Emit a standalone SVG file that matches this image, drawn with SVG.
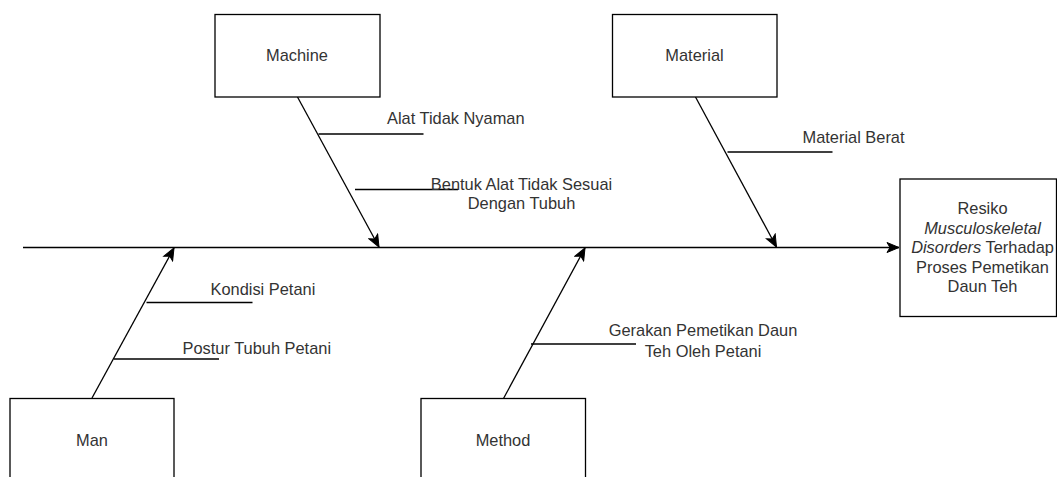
<svg xmlns="http://www.w3.org/2000/svg" width="1057" height="477" viewBox="0 0 1057 477">
<style>
.box{fill:#fff;stroke:#000;stroke-width:1.3}
.ln{fill:none;stroke:#000;stroke-width:1.3}
.t{font-family:"Liberation Sans",Arial,sans-serif;font-size:16.4px;fill:#333}
.c{text-anchor:middle}
</style>
<defs>
<marker id="arr" viewBox="-13 -6 14 12" refX="0" refY="0" markerWidth="14" markerHeight="12" markerUnits="userSpaceOnUse" orient="auto">
<path d="M-12,-5 L0,0 L-12,5 L-9,0 Z" fill="#000" stroke="#000" stroke-width="1"/>
</marker>
</defs>
<rect width="1057" height="477" fill="#fff"/>
<g id="connectors">
<line class="ln" x1="23" y1="247.5" x2="899" y2="247.5" marker-end="url(#arr)"/>
<line class="ln" x1="297.5" y1="97" x2="379" y2="247" marker-end="url(#arr)"/>
<line class="ln" x1="695.5" y1="97" x2="776.5" y2="247" marker-end="url(#arr)"/>
<line class="ln" x1="92" y1="398" x2="174" y2="248" marker-end="url(#arr)"/>
<line class="ln" x1="503.5" y1="398.5" x2="585" y2="248" marker-end="url(#arr)"/>
<line class="ln" x1="318.5" y1="134" x2="423.5" y2="134"/>
<line class="ln" x1="355" y1="189.5" x2="458" y2="189.5"/>
<line class="ln" x1="727.5" y1="152" x2="832.5" y2="152"/>
<line class="ln" x1="146.5" y1="302.5" x2="252.5" y2="302.5"/>
<line class="ln" x1="114" y1="359" x2="219" y2="359"/>
<line class="ln" x1="531" y1="344" x2="636" y2="344"/>
</g>
<g id="machine">
<rect class="box" x="215" y="14.5" width="165" height="82.5"/>
<text class="t c" x="297" y="60.5">Machine</text>
</g>
<g id="material">
<rect class="box" x="612.5" y="14.5" width="164.5" height="82.5"/>
<text class="t c" x="694.5" y="60.5">Material</text>
</g>
<g id="man">
<rect class="box" x="10" y="398.5" width="164" height="83"/>
<text class="t c" x="92" y="445.5">Man</text>
</g>
<g id="method">
<rect class="box" x="421" y="398.5" width="164.5" height="83"/>
<text class="t c" x="503" y="445.5">Method</text>
</g>
<g id="effect">
<rect class="box" x="900" y="179" width="156.5" height="137.5"/>
<text class="t c" x="982.5"><tspan x="982.5" y="214">Resiko</tspan><tspan x="982.5" y="233.5" font-style="italic">Musculoskeletal</tspan><tspan x="982.5" y="253"><tspan font-style="italic">Disorders</tspan> Terhadap</tspan><tspan x="982.5" y="272.5">Proses Pemetikan</tspan><tspan x="982.5" y="292">Daun Teh</tspan></text>
</g>
<g id="labels">
<text class="t" x="387" y="124">Alat Tidak Nyaman</text>
<text class="t c" x="521.5" y="190">Bentuk Alat Tidak Sesuai</text>
<text class="t c" x="521.5" y="209">Dengan Tubuh</text>
<text class="t" x="802.5" y="143">Material Berat</text>
<text class="t" x="210.5" y="295">Kondisi Petani</text>
<text class="t" x="182.5" y="353.5">Postur Tubuh Petani</text>
<text class="t c" x="703" y="336">Gerakan Pemetikan Daun</text>
<text class="t c" x="703" y="356.5">Teh Oleh Petani</text>
</g>
</svg>
